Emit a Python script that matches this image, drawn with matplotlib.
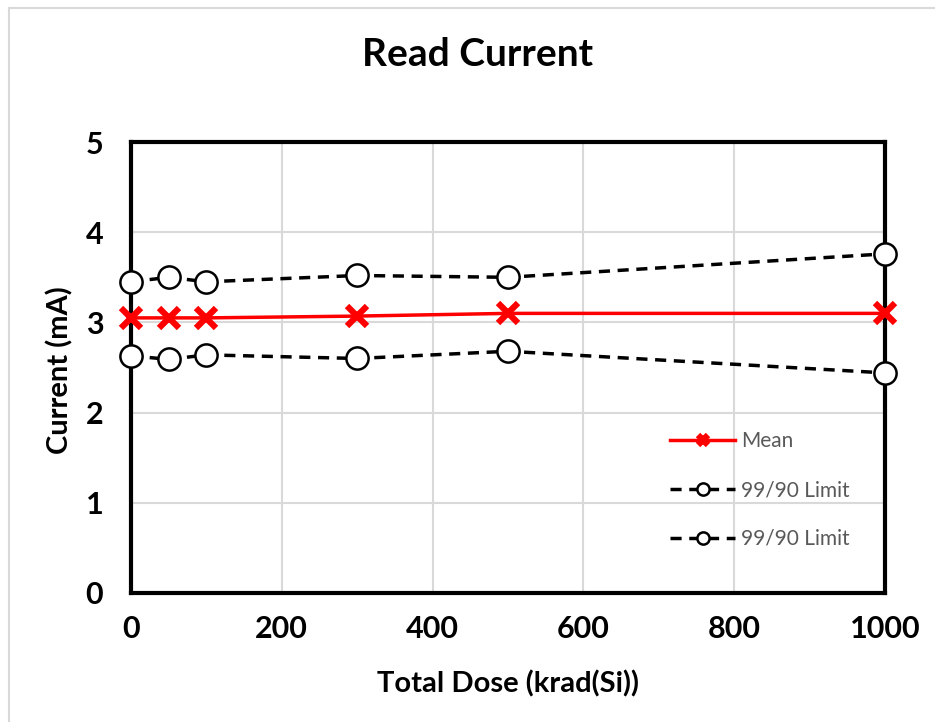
import matplotlib
matplotlib.use("Agg")
import matplotlib.pyplot as plt
from matplotlib.lines import Line2D

dose = [0, 50, 100, 300, 500, 1000]
mean_vals = [3.05, 3.05, 3.05, 3.07, 3.10, 3.10]
upper_vals = [3.45, 3.50, 3.45, 3.52, 3.50, 3.76]
lower_vals = [2.63, 2.59, 2.64, 2.60, 2.68, 2.44]
x_ticks = [0, 200, 400, 600, 800, 1000]
y_ticks = [0, 1, 2, 3, 4, 5]
title = "Read Current"
xlabel = "Total Dose (krad(Si))"
ylabel = "Current (mA)"
labels = ["Mean", "99/90 Limit", "99/90 Limit"]

FONT = "Lato"
plt.rcParams['font.family'] = [FONT, 'DejaVu Sans']

fig = plt.figure(figsize=(9.35, 7.22), dpi=100)
ax = fig.add_axes([131/935, 1-593/722, (885-131)/935, (593-142)/722])

ax.plot(dose, upper_vals, color='black', lw=2.5, ls=(0, (3.2, 2.2)),
        marker='o', ms=16, mfc='white', mec='black', mew=1.8,
        clip_on=False, zorder=5, label=labels[1])
ax.plot(dose, lower_vals, color='black', lw=2.5, ls=(0, (3.2, 2.2)),
        marker='o', ms=16, mfc='white', mec='black', mew=1.8,
        clip_on=False, zorder=5, label=labels[2])
ax.plot(dose, mean_vals, color='#ff0000', lw=2.5,
        marker='x', ms=14, mew=4.5, mec='#ff0000',
        clip_on=False, zorder=6, label=labels[0])

ax.set_xlim(0, 1000)
ax.set_ylim(0, 5)
ax.set_xticks(x_ticks)
ax.set_yticks(y_ticks)
ax.grid(True, color='#d9d9d9', lw=1.5)
ax.set_axisbelow(True)
for s in ax.spines.values():
    s.set_linewidth(3)
    s.set_color('black')
ax.tick_params(length=0, labelsize=22)
ax.tick_params(axis='x', pad=16)
ax.tick_params(axis='y', pad=20)
for t in ax.get_xticklabels() + ax.get_yticklabels():
    t.set_fontweight('bold')

fig.text(478/935, 1-55/722, title, ha='center', va='center', fontsize=28, fontweight='bold')
fig.text(508/935, 1-684/722, xlabel, ha='center', va='center', fontsize=21, fontweight='bold')
fig.text(60/935, 1-370/722, ylabel, ha='center', va='center', fontsize=21, fontweight='bold', rotation=90)

h, l = ax.get_legend_handles_labels()
order = [2, 0, 1]
leg = ax.legend([h[i] for i in order], [l[i] for i in order],
                loc='upper left', bbox_to_anchor=((660-131)/(885-131), 1-(421-142)/(593-142)),
                frameon=False, fontsize=15, handlelength=3.1, labelspacing=1.38,
                handletextpad=0.3, markerscale=0.55, borderpad=0)
for t in leg.get_texts():
    t.set_color('#595959')

fig.add_artist(Line2D([9/935, 9/935], [0, 1-8/722], color='#d9d9d9', lw=1.5))
fig.add_artist(Line2D([9/935, 1], [1-8/722, 1-8/722], color='#d9d9d9', lw=1.5))

fig.savefig("out.png", dpi=100)
